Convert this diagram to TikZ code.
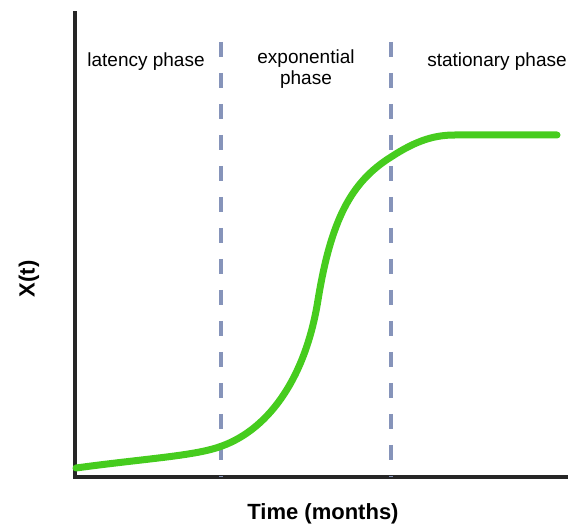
\documentclass[tikz,border=0pt]{standalone}
\usepackage{fontspec}
\setmainfont{Liberation Sans}
\begin{document}
\begin{tikzpicture}[x=1pt,y=-1pt,
  axisline/.style={line width=4pt,draw=black!85,line cap=rect},
  phaseline/.style={line width=4.5pt,draw=phaseblue,dash pattern=on 15pt off 16pt},
  growth/.style={line width=7pt,draw=growthgreen,line cap=round,line join=round},
  phaselabel/.style={font=\fontsize{19}{21}\selectfont,inner sep=0pt,align=center},
  axislabel/.style={font=\fontsize{22}{24}\selectfont\bfseries,inner sep=0pt}]
\definecolor{phaseblue}{RGB}{134,148,186}
\definecolor{growthgreen}{RGB}{70,204,30}
\useasboundingbox (0,0) rectangle (568,526);

% axes
\coordinate (ytop) at (75,13);
\coordinate (origin) at (75,477);
\coordinate (xend) at (568,477);
\draw[axisline] (ytop) -- (origin) -- (xend);

% phase boundaries
\coordinate (b1top) at (221,42);
\coordinate (b1bot) at (221,477);
\coordinate (b2top) at (391,42);
\coordinate (b2bot) at (391,477);
\draw[phaseline] (b1top) -- (b1bot);
\draw[phaseline] (b2top) -- (b2bot);

% growth curve: latency, exponential rise, saturation
\coordinate (g0) at (76,468);
\coordinate (g1) at (222,446);
\coordinate (g2) at (318,300);
\coordinate (g3) at (391,157);
\coordinate (g4) at (455,135);
\coordinate (g5) at (557,135);
\draw[growth] (g0) .. controls (150,458) and (195,456) .. (g1)
  .. controls (271,428) and (306,375) .. (g2)
  .. controls (331,220) and (351,182) .. (g3)
  .. controls (417,140) and (435,135) .. (g4) -- (g5);

% phase labels
\node[phaselabel,anchor=base] (lat) at (146,67) {latency phase};
\node[phaselabel,anchor=base] (exp1) at (306,64) {exponential};
\node[phaselabel,anchor=base] (exp2) at (306,85) {phase};
\node[phaselabel,anchor=base] (sta) at (497,67) {stationary phase};

% axis labels
\node[axislabel,anchor=base] (xlab) at (323,519) {Time (months)};
\node[axislabel,rotate=90] (ylab) at (29,279) {X(t)};
\end{tikzpicture}
\end{document}
